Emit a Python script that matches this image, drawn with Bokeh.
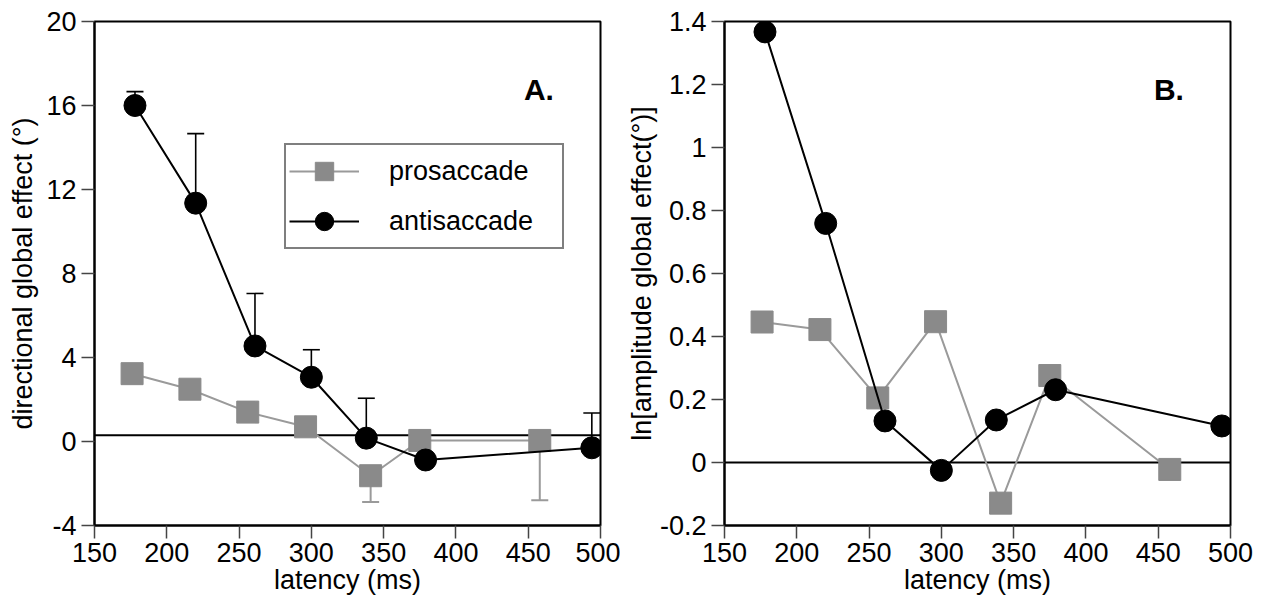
from bokeh.plotting import figure
from bokeh.models import (ColumnDataSource, Whisker, TeeHead, Span, Label, Legend,
                          LegendItem, FixedTicker, CustomJSTickFormatter)
from bokeh.layouts import row
from bokeh.embed import file_html
from bokeh.resources import INLINE

# ---------------- data ----------------
latency_pro = [176, 216, 256, 296, 341, 375, 458]
latency_anti = [178, 220, 261, 300, 338, 379, 494]

dir_pro = [3.23, 2.49, 1.40, 0.70, -1.63, 0.05, 0.05]
dir_pro_err_low = [3.23, 2.49, 1.40, 0.70, -2.88, 0.05, -2.80]
dir_anti = [16.0, 11.35, 4.55, 3.06, 0.16, -0.88, -0.30]
dir_anti_err_up = [16.66, 14.66, 7.05, 4.37, 2.06, -0.88, 1.36]

amp_pro = [0.446, 0.422, 0.205, 0.447, -0.129, 0.276, -0.022]
amp_anti = [1.367, 0.759, 0.132, -0.025, 0.135, 0.231, 0.116]

latency_ticks = [150, 200, 250, 300, 350, 400, 450, 500]
dir_ticks = [-4, 0, 4, 8, 12, 16, 20]
amp_ticks = [-0.2, 0, 0.2, 0.4, 0.6, 0.8, 1.0, 1.2, 1.4]
dir_reference = 0.3
amp_reference = 0.0

series_names = ["prosaccade", "antisaccade"]
panel_letters = ["A.", "B."]

# ---------------- style ----------------
FONT = "Liberation Sans"
GRAY_FILL = "#8a8a8a"
GRAY_LINE = "#9a9a9a"

plain_fmt = CustomJSTickFormatter(code="return String(Number(tick.toFixed(1)));")


def style(p, label_standoff):
    p.outline_line_color = "black"
    p.outline_line_width = 2
    p.outline_line_alpha = 1
    p.xgrid.visible = False
    p.ygrid.visible = False
    for ax in (p.xaxis[0], p.yaxis[0]):
        ax.axis_line_color = "black"
        ax.axis_line_width = 2
        ax.major_tick_line_color = "#444444"
        ax.major_tick_line_width = 1.5
        ax.major_tick_out = 13
        ax.major_tick_in = 0
        ax.minor_tick_line_color = None
        ax.major_label_text_font = FONT
        ax.major_label_text_font_size = "27px"
        ax.major_label_text_color = "black"
        ax.axis_label_text_font = FONT
        ax.axis_label_text_font_size = "27px"
        ax.axis_label_text_font_style = "normal"
        ax.axis_label_text_color = "black"
        ax.formatter = plain_fmt
    p.xaxis[0].major_label_standoff = 4
    p.xaxis[0].axis_label_standoff = 0
    p.yaxis[0].major_label_standoff = 5
    p.yaxis[0].axis_label_standoff = label_standoff
    p.xaxis[0].ticker = FixedTicker(ticks=latency_ticks)
    p.background_fill_color = "white"
    p.border_fill_color = "white"


def make_panel(width, left_border, yr, yticks, y_pro, y_anti, ylabel, ref, letter,
               letter_pos, label_standoff, pro_low=None, anti_up=None, legend=False):
    p = figure(width=width, height=604, x_range=(150, 500), y_range=yr,
               output_backend="svg", toolbar_location=None,
               min_border_left=left_border, min_border_right=width - left_border - 506,
               min_border_top=21, min_border_bottom=79,
               x_axis_label="latency (ms)", y_axis_label=ylabel)
    style(p, label_standoff)
    p.yaxis[0].ticker = FixedTicker(ticks=yticks)

    span = Span(location=ref, dimension="width", line_color="black", line_width=2,
                level="underlay")
    p.add_layout(span)

    src_pro = ColumnDataSource(dict(x=latency_pro, y=y_pro))
    src_anti = ColumnDataSource(dict(x=latency_anti, y=y_anti))

    if pro_low is not None:
        wsrc = ColumnDataSource(dict(x=latency_pro, upper=y_pro, lower=pro_low))
        w = Whisker(base="x", upper="upper", lower="lower", source=wsrc,
                    line_color=GRAY_LINE, line_width=2, upper_head=None,
                    lower_head=TeeHead(size=17, line_color=GRAY_LINE, line_width=2),
                    level="underlay")
        p.add_layout(w)
    if anti_up is not None:
        wsrc = ColumnDataSource(dict(x=latency_anti, upper=anti_up, lower=y_anti))
        w = Whisker(base="x", upper="upper", lower="lower", source=wsrc,
                    line_color="black", line_width=1.6, lower_head=None,
                    upper_head=TeeHead(size=17, line_color="black", line_width=1.6),
                    level="underlay")
        p.add_layout(w)

    l1 = p.line("x", "y", source=src_pro, line_color=GRAY_LINE, line_width=2)
    m1 = p.scatter("x", "y", source=src_pro, marker="square", size=22,
                   fill_color=GRAY_FILL, line_color=GRAY_FILL)
    l2 = p.line("x", "y", source=src_anti, line_color="black", line_width=2)
    m2 = p.scatter("x", "y", source=src_anti, marker="circle", size=22,
                   fill_color="black", line_color="black")

    p.add_layout(Label(x=letter_pos[0], y=letter_pos[1], text=letter,
                       text_font=FONT, text_font_style="bold", text_font_size="30px",
                       text_color="black", text_baseline="alphabetic"))

    if legend:
        lg = Legend(items=[LegendItem(label=series_names[0], renderers=[l1, m1]),
                           LegendItem(label=series_names[1], renderers=[l2, m2])],
                    location=(190, 276), margin=0, padding=3, spacing=4,
                    glyph_width=70, glyph_height=46, label_standoff=30,
                    label_width=170,
                    label_text_font=FONT, label_text_font_size="27px",
                    label_text_color="black",
                    border_line_color="black", border_line_width=2,
                    background_fill_color="white", background_fill_alpha=1)
        p.add_layout(lg)
    return p


p1 = make_panel(620, 94, (-4, 20), dir_ticks, dir_pro, dir_anti,
                "directional global effect (°)", dir_reference, panel_letters[0],
                (447, 16.75), 5, pro_low=dir_pro_err_low, anti_up=dir_anti_err_up,
                legend=True)

p2 = make_panel(641, 104, (-0.2, 1.4), amp_ticks, amp_pro, amp_anti,
                "ln[amplitude global effect(°)]", amp_reference, panel_letters[1],
                (447, 1.183), 0)

layout = row(p1, p2)
open("out.html", "w").write(file_html(layout, INLINE))
